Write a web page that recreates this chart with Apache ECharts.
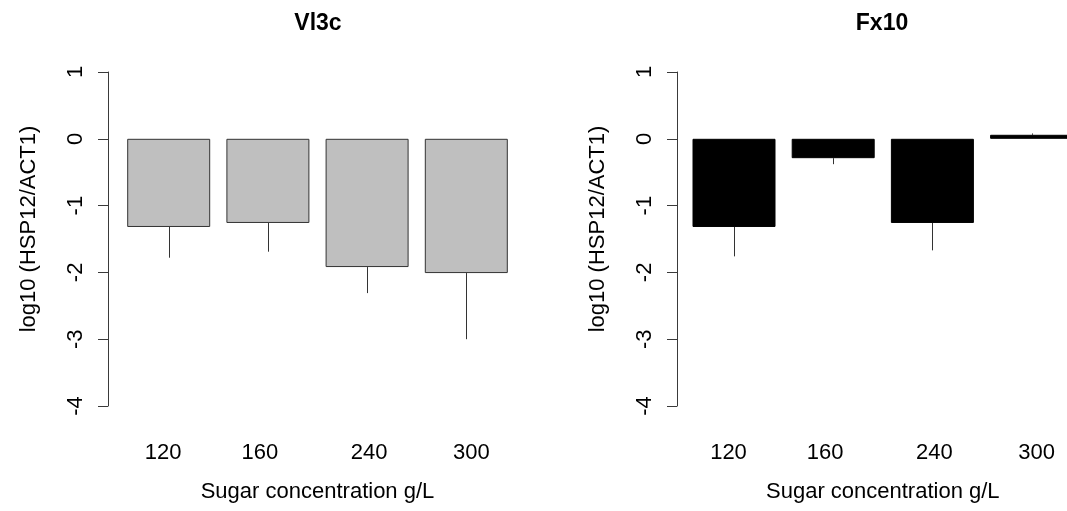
<!DOCTYPE html>
<html>
<head>
<meta charset="utf-8">
<script src="https://cdn.jsdelivr.net/npm/echarts@6/dist/echarts.min.js"></script>
<style>
html,body{margin:0;padding:0;background:#fff;}
#chart{width:1067px;height:511px;}
</style>
</head>
<body>
<div id="chart"></div>
<script>
// ---- data ----
const categories = ['120', '160', '240', '300'];
const panelTitles = ['Vl3c', 'Fx10'];
const vl3cMean = [-1.32, -1.26, -1.92, -2.01];
const vl3cErr = [0.46, 0.43, 0.39, 0.99];
const fx10Mean = [-1.32, -0.29, -1.26, 0.06];
const fx10Err = [0.44, 0.09, 0.41, 0.02];
const yTicks = [-4, -3, -2, -1, 0, 1];
const xAxisTitle = 'Sugar concentration g/L';
const yAxisTitle = 'log10 (HSP12/ACT1)';

const FONT = '"Liberation Sans", Arial, sans-serif';
const AXIS_COLOR = '#3a3a3a';

function errData(mean, err) {
  return mean.map((m, i) => [i, m, m >= 0 ? m + err[i] : m - err[i]]);
}

// small per-label nudges (labels in the reference are not exactly under bar centres)
const labelRich = {
  c0: { fontFamily: FONT, fontSize: 22, color: '#000', padding: [0, 11, 0, 0] },
  c1: { fontFamily: FONT, fontSize: 22, color: '#000', padding: [0, 16, 0, 0] },
  c2: { fontFamily: FONT, fontSize: 22, color: '#000', padding: [0, 0, 0, 4] },
  c3: { fontFamily: FONT, fontSize: 22, color: '#000', padding: [0, 0, 0, 10] }
};

const panels = [
  { left: 168.7, width: 297.6, yOffset: 60.7, fill: '#bfbfbf', border: '#333333', mean: vl3cMean, err: vl3cErr, cx: 318 },
  { left: 734, width: 297.6, yOffset: 57, fill: '#000000', border: '#000000', mean: fx10Mean, err: fx10Err, cx: 882 }
];

const grids = [], xAxes = [], yAxes = [], series = [], titles = [];
panels.forEach((p, k) => {
  grids.push({ left: p.left, top: 72, width: p.width, height: 334, containLabel: false });
  titles.push({
    text: panelTitles[k], left: p.cx, top: 12, textAlign: 'center', padding: 0,
    textStyle: { fontFamily: FONT, fontSize: 23, fontWeight: 'bold', color: '#000' }
  });
  xAxes.push({
    type: 'category', gridIndex: k, data: categories, boundaryGap: false,
    axisLine: { show: false, onZero: false }, axisTick: { show: false },
    axisLabel: {
      interval: 0, hideOverlap: false, showMinLabel: true, showMaxLabel: true,
      margin: 36, fontFamily: FONT, fontSize: 22, color: '#000',
      formatter: function (v, i) { return '{c' + i + '|' + v + '}'; },
      rich: labelRich
    },
    name: xAxisTitle, nameLocation: 'middle', nameGap: 75,
    nameTextStyle: { fontFamily: FONT, fontSize: 22, color: '#000' }
  });
  yAxes.push({
    type: 'value', gridIndex: k, min: yTicks[0], max: yTicks[yTicks.length - 1], interval: 1,
    offset: p.yOffset,
    splitLine: { show: false },
    axisLine: { show: true, lineStyle: { color: AXIS_COLOR, width: 1 } },
    axisTick: { show: true, length: 10, lineStyle: { color: AXIS_COLOR, width: 1 } },
    axisLabel: { rotate: 90, margin: 21, fontFamily: FONT, fontSize: 22, color: '#000' },
    name: yAxisTitle, nameLocation: 'middle', nameGap: 68, nameRotate: 90,
    nameTextStyle: { fontFamily: FONT, fontSize: 22, color: '#000', padding: [0, 0, 0, 20] }
  });
  series.push({
    type: 'bar', xAxisIndex: k, yAxisIndex: k, data: p.mean, barWidth: 83, clip: false,
    itemStyle: { color: p.fill, borderColor: p.border, borderWidth: 1 },
    silent: true, animation: false
  });
  series.push({
    type: 'custom', xAxisIndex: k, yAxisIndex: k, data: errData(p.mean, p.err), clip: false,
    renderItem: function (params, api) {
      const a = api.coord([api.value(0), api.value(1)]);
      const b = api.coord([api.value(0), api.value(2)]);
      return {
        type: 'line',
        shape: { x1: Math.round(a[0]) + 0.5, y1: a[1], x2: Math.round(b[0]) + 0.5, y2: b[1] },
        style: { stroke: '#333333', lineWidth: 1 }
      };
    },
    silent: true, animation: false
  });
});

const chart = echarts.init(document.getElementById('chart'), null, { renderer: 'canvas' });
chart.setOption({
  backgroundColor: '#ffffff',
  animation: false,
  title: titles,
  grid: grids,
  xAxis: xAxes,
  yAxis: yAxes,
  series: series
});
</script>
</body>
</html>
